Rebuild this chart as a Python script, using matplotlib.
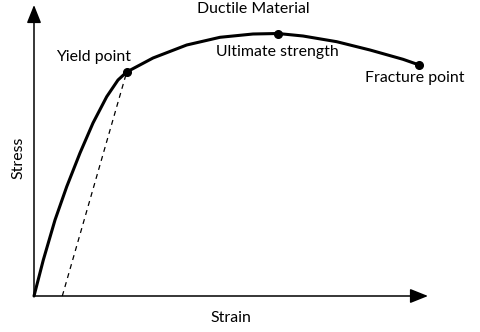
import matplotlib
matplotlib.use("Agg")
import matplotlib.pyplot as plt

plt.rcParams['font.family'] = ['Lato', 'DejaVu Sans']

# stress-strain curve (arbitrary units)
strain = [0, 9.3, 21, 32.7, 46, 59, 72.7, 84, 92.7, 119, 152.7, 186, 219, 244,
          269, 302.7, 336, 369, 385.3]
stress = [0, 36, 76, 109.3, 143, 173, 199.3, 216, 224, 238, 251, 258.7, 262, 262.5,
          260, 254.3, 246, 236.7, 231]

# offset (unloading) line
offset_strain = [28.3, 92.7]
offset_stress = [0, 224]

# marked points
point_names = ["Yield point", "Ultimate strength", "Fracture point"]
point_strain = [92.7, 244, 385.3]
point_stress = [224, 262.5, 231]

title = "Ductile Material"
x_label = "Strain"
y_label = "Stress"

fig = plt.figure(figsize=(4.81, 3.32), dpi=100)
ax = fig.add_axes([0, 0, 1, 1])
ax.set_xlim(-34, 447)
ax.set_ylim(-36, 296)
ax.axis('off')

# axes arrows
arrow_kw = dict(arrowstyle='-|>,head_length=0.55,head_width=0.22', lw=1.1,
                color='black', mutation_scale=20, shrinkA=0, shrinkB=0)
ax.annotate("", xy=(394, 0), xytext=(0, 0), arrowprops=arrow_kw)
ax.annotate("", xy=(0, 291), xytext=(0, 0), arrowprops=arrow_kw)

ax.plot(strain, stress, color='black', lw=2.2, solid_capstyle='round',
        solid_joinstyle='round', zorder=3)
ax.plot(offset_strain, offset_stress, color='black', lw=0.9,
        dashes=(4, 3.5), zorder=2)
ax.plot(point_strain, point_stress, 'o', color='black', ms=5.5, zorder=4)

fs = 11.4
ax.text(60, 239, point_names[0], ha='center', va='center', fontsize=fs)
ax.text(243, 244, point_names[1], ha='center', va='center', fontsize=fs)
ax.text(381, 218, point_names[2], ha='center', va='center', fontsize=fs)
ax.text(219, 287, title, ha='center', va='center', fontsize=fs)
ax.text(197, -22, x_label, ha='center', va='center', fontsize=fs)
ax.text(-16, 138, y_label, ha='center', va='center', fontsize=fs, rotation=90)

fig.savefig("out.png", dpi=100)
